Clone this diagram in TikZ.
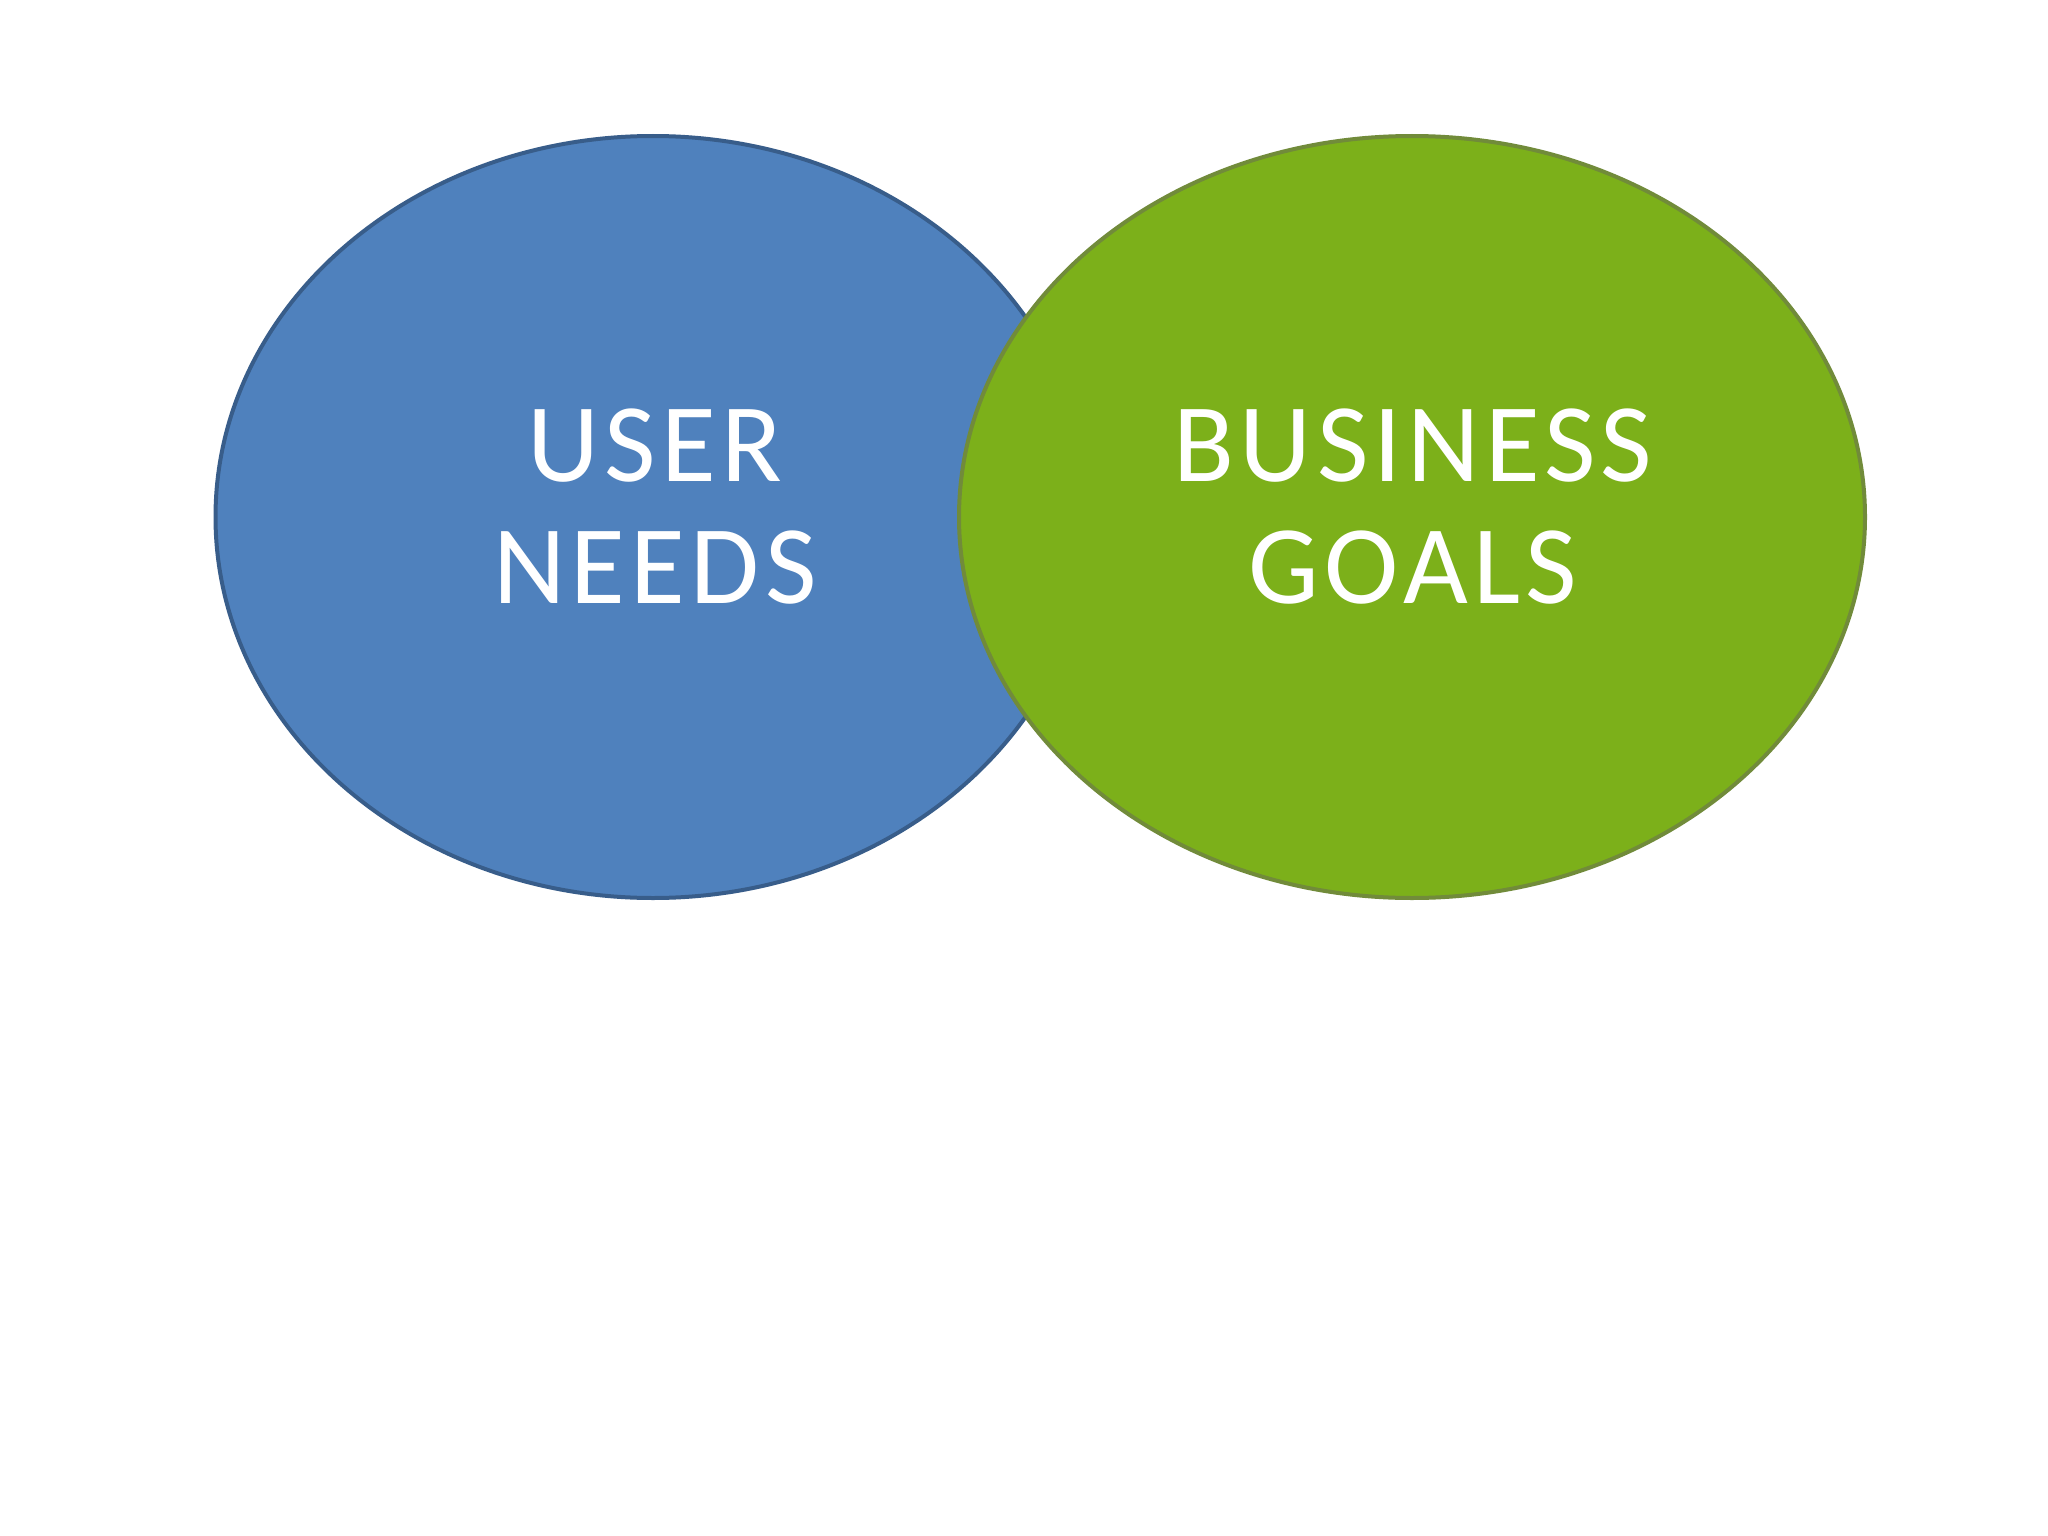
\documentclass[tikz,border=0pt]{standalone}
\usepackage{fontspec}
\setmainfont{Carlito}[LetterSpace=4.8]
\definecolor{bluefill}{RGB}{79,129,189}
\definecolor{blueline}{RGB}{56,93,138}
\definecolor{greenfill}{RGB}{124,176,26}
\definecolor{greenline}{RGB}{113,139,58}
\tikzset{
  lbl/.style={text=white, align=center, font=\fontsize{112}{123}\selectfont, inner sep=0pt},
}
\begin{document}
\begin{tikzpicture}[x=1pt,y=-1pt]
\useasboundingbox[fill=white] (0,0) rectangle (2048,1536);
\draw[fill=bluefill, draw=blueline, line width=4pt] (653,517) ellipse [x radius=437.5, y radius=381];
\draw[fill=greenfill, draw=greenline, line width=4pt] (1412,517) ellipse [x radius=453, y radius=381];
\node[lbl, anchor=base] (user) at (655,481) {USER};
\node[lbl, anchor=base] (needs) at (655,603) {NEEDS};
\node[lbl, anchor=base] (business) at (1413,481) {BUSINESS};
\node[lbl, anchor=base] (goals) at (1413,603) {GOALS};
\end{tikzpicture}
\end{document}
